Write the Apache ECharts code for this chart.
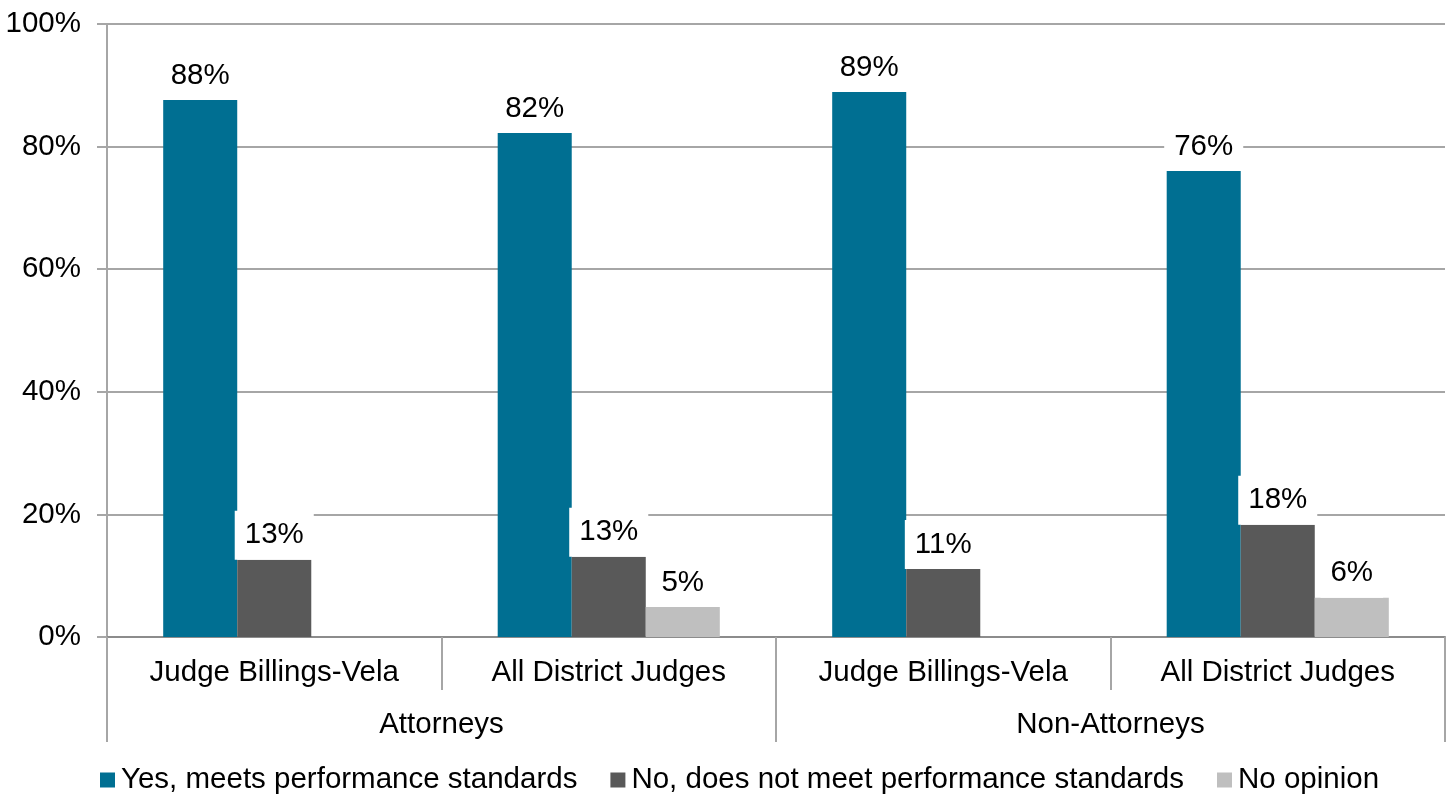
<!DOCTYPE html>
<html>
<head>
<meta charset="utf-8">
<script src="https://cdn.jsdelivr.net/npm/echarts@6/dist/echarts.min.js"></script>
<style>
html,body{margin:0;padding:0;background:#fff;}
#chart{width:1453px;height:797px;}
</style>
</head>
<body>
<div id="chart"></div>
<script>
const categories = ['Judge Billings-Vela', 'All District Judges', 'Judge Billings-Vela', 'All District Judges'];
const groups = ['Attorneys', 'Non-Attorneys'];
const seriesNames = ['Yes, meets performance standards', 'No, does not meet performance standards', 'No opinion'];
const yesValues = [87.6, 82.2, 88.9, 76.0];
const noValues = [12.6, 13.1, 11.1, 18.3];
const noOpinionValues = [null, 4.9, null, 6.4];
const yTicks = [0, 20, 40, 60, 80, 100];
const colors = ['#006F92', '#595959', '#BFBFBF'];

const font = 'Liberation Sans, Arial, sans-serif';
const fs = 29.5;
const chart = echarts.init(document.getElementById('chart'));

function mkSeries(name, data, color) {
  return {
    name: name,
    type: 'bar',
    data: data,
    xAxisIndex: 0,
    itemStyle: { color: color },
    barGap: '0%',
    barCategoryGap: '33.6%',
    label: {
      show: true,
      position: 'top',
      distance: 0,
      formatter: p => Math.round(p.value) + '%',
      fontFamily: font,
      fontSize: fs,
      color: '#000',
      backgroundColor: '#fff',
      padding: [8, 10],
      lineHeight: 33
    }
  };
}

chart.setOption({
  animation: false,
  textStyle: { fontFamily: font },
  color: colors,
  grid: { left: 107, right: 8, top: 24, bottom: 160, containLabel: false },
  legend: {
    bottom: 2,
    padding: 0,
    left: 100,
    itemWidth: 15,
    itemHeight: 15,
    itemGap: 33,
    icon: 'rect',
    textStyle: { fontFamily: font, fontSize: fs, color: '#000', padding: [0, 0, 0, 1] },
    data: seriesNames
  },
  xAxis: [
    {
      type: 'category',
      data: categories,
      position: 'bottom',
      axisLine: { show: true, lineStyle: { color: '#8C8C8C', width: 2 } },
      axisTick: { show: true, length: 53, lineStyle: { color: '#A6A6A6', width: 2 } },
      axisLabel: { margin: 21, fontFamily: font, fontSize: fs, color: '#000' },
      splitLine: { show: false }
    },
    {
      type: 'category',
      data: groups,
      position: 'bottom',
      axisLine: { show: false },
      axisTick: { show: true, length: 105, lineStyle: { color: '#A6A6A6', width: 2 } },
      axisLabel: { margin: 73, fontFamily: font, fontSize: fs, color: '#000' },
      splitLine: { show: false }
    }
  ],
  yAxis: {
    type: 'value',
    min: yTicks[0],
    max: yTicks[yTicks.length - 1],
    interval: 20,
    axisLine: { show: true, lineStyle: { color: '#A6A6A6', width: 2 } },
    axisTick: { show: true, length: 10, lineStyle: { color: '#A6A6A6', width: 2 } },
    axisLabel: { margin: 26, fontFamily: font, fontSize: fs, color: '#000', formatter: v => v + '%' },
    splitLine: { show: true, lineStyle: { color: '#A6A6A6', width: 2 } }
  },
  series: [
    mkSeries(seriesNames[0], yesValues, colors[0]),
    mkSeries(seriesNames[1], noValues, colors[1]),
    mkSeries(seriesNames[2], noOpinionValues, colors[2])
  ]
});
</script>
</body>
</html>
